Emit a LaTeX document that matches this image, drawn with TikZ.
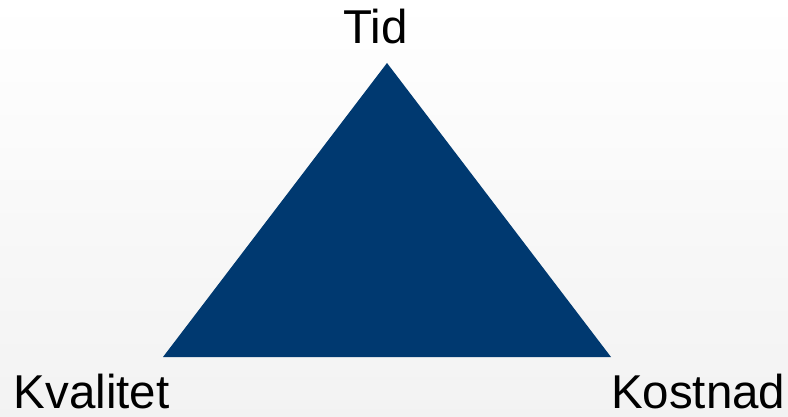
\documentclass[tikz,border=0pt]{standalone}
\usepackage{fontspec}
\setmainfont{Liberation Sans}
\definecolor{navy}{RGB}{0,57,112}
\begin{document}
\begin{tikzpicture}[x=1pt,y=-1pt,
  lbl/.style={inner sep=0pt,font=\fontsize{47.5}{52}\selectfont,text=black}]
\shade[top color=white,bottom color=black!5] (0,0) rectangle (788,417);
\useasboundingbox (0,0) rectangle (788,417);
\coordinate (top) at (387,63);
\coordinate (bl) at (163,357);
\coordinate (br) at (611,357);
\fill[navy] (top) -- (bl) -- (br) -- cycle;
\node[lbl,anchor=base] (tid) at (375.5,44) {Tid};
\node[lbl,anchor=base west] (kval) at (13.5,408) {Kvalitet};
\node[lbl,anchor=base east] (kost) at (785.5,408) {Kostnad};
\end{tikzpicture}
\end{document}
